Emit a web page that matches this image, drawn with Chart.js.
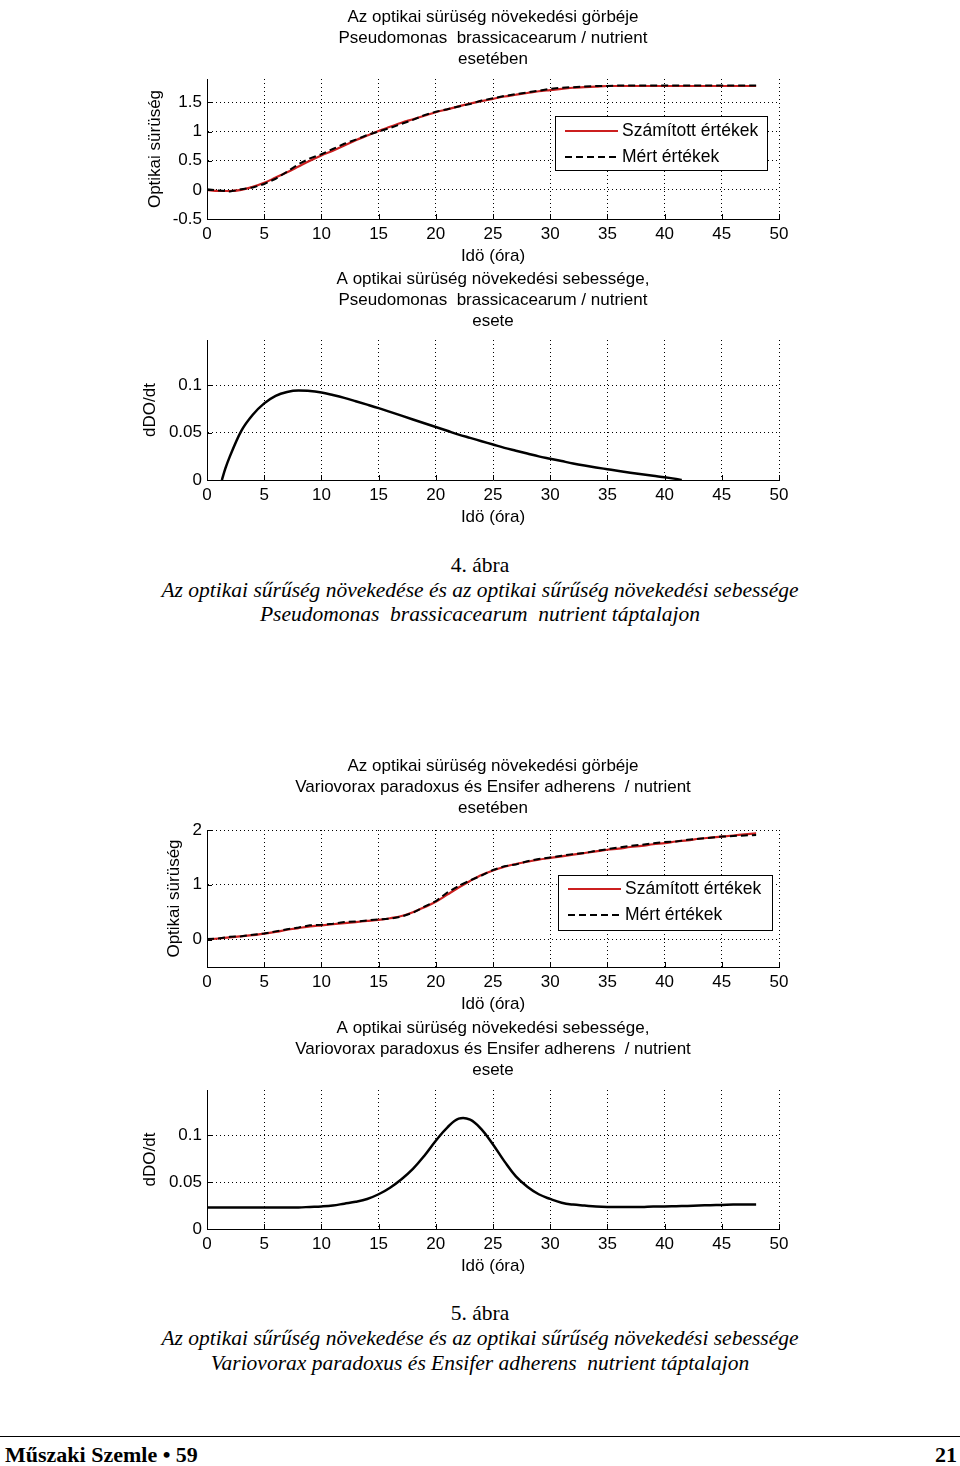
<!DOCTYPE html>
<html>
<head>
<meta charset="utf-8">
<script src="https://cdn.jsdelivr.net/npm/chart.js@4.4.0/dist/chart.umd.min.js"></script>
<style>
  body { margin: 0; background: #fff; width: 960px; height: 1466px; position: relative; overflow: hidden; }
  canvas.plot { position: absolute; left: 120px; }
  .cap { position: absolute; left: 0; width: 960px; text-align: center; font-family: 'Liberation Serif', 'Times New Roman', serif;
         font-size: 21.5px; line-height: 25px; white-space: pre; color: #000; }
  .cap.it { font-style: italic; }
  .rule { position: absolute; left: 0; top: 1436px; width: 960px; border-top: 1.5px solid #000; }
  .foot { position: absolute; top: 1443px; font-family: 'Liberation Serif', 'Times New Roman', serif; font-weight: bold;
          font-size: 22px; line-height: 24px; color: #000; }
</style>
</head>
<body>
<canvas id="od1" class="plot" width="700" height="270" style="top:0px"></canvas>
<canvas id="rate1" class="plot" width="700" height="269" style="top:262px"></canvas>
<canvas id="od2" class="plot" width="700" height="269" style="top:749px"></canvas>
<canvas id="rate2" class="plot" width="700" height="269" style="top:1011px"></canvas>

<div class="cap" style="top:553px">4. ábra</div>
<div class="cap it" style="top:578px">Az optikai sűrűség növekedése és az optikai sűrűség növekedési sebessége</div>
<div class="cap it" style="top:602px">Pseudomonas  brassicacearum  nutrient táptalajon</div>

<div class="cap" style="top:1301px">5. ábra</div>
<div class="cap it" style="top:1326px">Az optikai sűrűség növekedése és az optikai sűrűség növekedési sebessége</div>
<div class="cap it" style="top:1351px">Variovorax paradoxus és Ensifer adherens  nutrient táptalajon</div>

<div class="rule"></div>
<div class="foot" style="left:5px">Műszaki Szemle • 59</div>
<div class="foot" style="right:3px">21</div>

<script>
// ---- data ----
const hours = [0, 1, 2, 3, 4, 5, 6, 7, 8, 9, 10, 11, 12, 13, 14, 15, 16, 17, 18, 19, 20, 21, 22, 23, 24,
               25, 26, 27, 28, 29, 30, 31, 32, 33, 34, 35, 36, 37, 38, 39, 40, 41, 42, 43, 44, 45, 46, 47, 48];

const seriesNames = ["Számított értékek", "Mért értékek"];

// 4. ábra - Pseudomonas brassicacearum
const odCalcPseudo = [0.00, -0.02, -0.02, 0.00, 0.05, 0.12, 0.21, 0.30, 0.40, 0.50, 0.59, 0.67, 0.76, 0.85, 0.93,
                      1.01, 1.08, 1.15, 1.21, 1.27, 1.33, 1.38, 1.43, 1.48, 1.52, 1.56, 1.60, 1.63, 1.66, 1.69,
                      1.71, 1.73, 1.75, 1.76, 1.77, 1.78, 1.78, 1.78, 1.78, 1.78, 1.78, 1.78, 1.78, 1.78, 1.78,
                      1.78, 1.78, 1.78, 1.78];
const odMeasPseudo = [0.01, -0.01, -0.03, 0.01, 0.04, 0.10, 0.19, 0.31, 0.44, 0.54, 0.61, 0.70, 0.79, 0.86, 0.94,
                      1.00, 1.06, 1.13, 1.20, 1.28, 1.34, 1.38, 1.43, 1.47, 1.53, 1.57, 1.61, 1.64, 1.67, 1.70,
                      1.73, 1.75, 1.76, 1.77, 1.78, 1.78, 1.79, 1.79, 1.79, 1.79, 1.79, 1.79, 1.79, 1.79, 1.79,
                      1.79, 1.79, 1.79, 1.79];
const rateHoursPseudo = [1.3, 1.6, 2, 3, 4, 5, 6, 7, 8, 9, 10, 11, 12, 13, 14, 15, 16, 17, 18, 19, 20, 21, 22,
                         23, 24, 25, 26, 27, 28, 29, 30, 31, 32, 33, 34, 35, 36, 37, 38, 39, 40, 41, 41.5];
const ratePseudo = [0, 0.012, 0.025, 0.052, 0.069, 0.081, 0.089, 0.093, 0.0945, 0.0942, 0.0925, 0.0898, 0.0868,
                    0.0833, 0.0797, 0.076, 0.072, 0.068, 0.064, 0.060, 0.056, 0.052, 0.048, 0.0445, 0.041, 0.0375,
                    0.034, 0.031, 0.028, 0.025, 0.0225, 0.020, 0.0175, 0.0153, 0.0133, 0.0114, 0.0095, 0.0077,
                    0.006, 0.0044, 0.003, 0.0012, 0];

// 5. ábra - Variovorax paradoxus és Ensifer adherens
const odCalcVario = [0.00, 0.02, 0.04, 0.06, 0.08, 0.11, 0.14, 0.18, 0.21, 0.24, 0.26, 0.28, 0.30, 0.32, 0.34,
                     0.36, 0.39, 0.43, 0.50, 0.59, 0.69, 0.82, 0.95, 1.07, 1.18, 1.26, 1.33, 1.38, 1.42, 1.46,
                     1.49, 1.52, 1.55, 1.58, 1.61, 1.64, 1.66, 1.69, 1.71, 1.74, 1.76, 1.79, 1.81, 1.84, 1.86,
                     1.88, 1.90, 1.92, 1.94];
const odMeasVario = [0.01, 0.02, 0.05, 0.06, 0.09, 0.11, 0.15, 0.19, 0.22, 0.26, 0.27, 0.29, 0.32, 0.33, 0.35,
                     0.37, 0.38, 0.42, 0.49, 0.60, 0.70, 0.86, 0.98, 1.08, 1.17, 1.27, 1.34, 1.37, 1.43, 1.47,
                     1.50, 1.53, 1.56, 1.58, 1.62, 1.65, 1.68, 1.71, 1.73, 1.76, 1.78, 1.79, 1.82, 1.84, 1.86,
                     1.88, 1.89, 1.90, 1.91];
const rateVario = [0.023, 0.023, 0.023, 0.023, 0.023, 0.023, 0.023, 0.023, 0.023, 0.0235, 0.024, 0.025, 0.027,
                   0.029, 0.032, 0.037, 0.044, 0.053, 0.064, 0.078, 0.094, 0.108, 0.1175, 0.1165, 0.106, 0.090,
                   0.072, 0.056, 0.045, 0.037, 0.032, 0.028, 0.026, 0.025, 0.024, 0.0235, 0.0235, 0.0235,
                   0.0235, 0.024, 0.024, 0.0243, 0.0246, 0.025, 0.0253, 0.0256, 0.026, 0.026, 0.026];

// axis ticks
const hourTicks = [0, 5, 10, 15, 20, 25, 30, 35, 40, 45, 50];
const odTicksPseudo = [-0.5, 0, 0.5, 1, 1.5];
const odTicksVario = [0, 1, 2];
const rateTicks = [0, 0.05, 0.1];

const odTitlePseudo = ["Az optikai sürüség növekedési görbéje", "Pseudomonas  brassicacearum / nutrient", "esetében"];
const rateTitlePseudo = ["A optikai sürüség növekedési sebessége,", "Pseudomonas  brassicacearum / nutrient", "esete"];
const odTitleVario = ["Az optikai sürüség növekedési görbéje", "Variovorax paradoxus és Ensifer adherens  / nutrient", "esetében"];
const rateTitleVario = ["A optikai sürüség növekedési sebessége,", "Variovorax paradoxus és Ensifer adherens  / nutrient", "esete"];

// ---- drawing ----
Chart.defaults.font.family = "'Liberation Sans', Arial, sans-serif";
Chart.defaults.font.size = 17;
Chart.defaults.color = "#000";

const redLine = "#cc1f1f";

// MATLAB style inward tick marks and boxed legend
const matlabAxes = {
    id: "matlabAxes",
    afterDraw(chart, args, opts) {
        const ctx = chart.ctx;
        const a = chart.chartArea;
        const x = chart.scales.x;
        const y = chart.scales.y;
        ctx.save();
        ctx.strokeStyle = "#000";
        ctx.lineWidth = 1;
        ctx.beginPath();
        x.ticks.forEach(t => {
            const px = Math.round(x.getPixelForValue(t.value)) + 0.5;
            ctx.moveTo(px, a.bottom);
            ctx.lineTo(px, a.bottom - 5);
        });
        y.ticks.forEach(t => {
            const py = Math.round(y.getPixelForValue(t.value)) + 0.5;
            ctx.moveTo(a.left, py);
            ctx.lineTo(a.left + 5, py);
        });
        ctx.stroke();

        if (opts.legend) {
            const lg = opts.legend;
            const bx = a.left + lg.dx, by = a.top + lg.dy;
            ctx.fillStyle = "#fff";
            ctx.fillRect(bx, by, lg.w, lg.h);
            ctx.strokeStyle = "#000";
            ctx.strokeRect(bx + 0.5, by + 0.5, lg.w, lg.h);
            ctx.font = "17.5px 'Liberation Sans', Arial, sans-serif";
            ctx.textBaseline = "middle";
            chart.data.datasets.forEach((ds, i) => {
                const ry = by + lg.row0 + i * lg.rowGap;
                ctx.beginPath();
                ctx.strokeStyle = ds.borderColor;
                ctx.lineWidth = ds.borderWidth;
                ctx.setLineDash(ds.borderDash || []);
                ctx.moveTo(bx + 10, ry);
                ctx.lineTo(bx + 63, ry);
                ctx.stroke();
                ctx.setLineDash([]);
                ctx.fillStyle = "#000";
                ctx.fillText(ds.label, bx + 67, ry);
            });
        }
        ctx.restore();
    }
};

function makePlot(id, p) {
    const tickList = p.yTicks;
    new Chart(document.getElementById(id), {
        type: "line",
        data: { datasets: p.datasets },
        options: {
            responsive: false,
            animation: false,
            layout: { padding: { left: p.padLeft, right: 41, top: 0, bottom: 3 } },
            elements: { point: { radius: 0 } },
            plugins: {
                legend: { display: false },
                tooltip: { enabled: false },
                title: {
                    display: true,
                    fullSize: false,
                    text: p.title,
                    font: { size: 17, weight: "normal", lineHeight: 21 / 17 },
                    color: "#000",
                    padding: { top: 6.5, bottom: p.titleGap }
                },
                matlabAxes: { legend: p.legend }
            },
            scales: {
                x: {
                    type: "linear",
                    min: 0, max: 50,
                    afterBuildTicks: s => { s.ticks = hourTicks.map(v => ({ value: v })); },
                    afterFit: s => { s.height = 48; },
                    ticks: { padding: 5, maxRotation: 0, autoSkip: false, callback: v => String(v) },
                    grid: { color: "#000", lineWidth: 1, drawTicks: false },
                    border: { color: "#000", width: 1, dash: [1, 3] },
                    title: { display: true, text: "Idö (óra)", padding: 0 }
                },
                y: {
                    min: p.yMin, max: p.yMax,
                    afterBuildTicks: s => { s.ticks = tickList.map(v => ({ value: v })); },
                    afterFit: s => { s.width = 87 - p.padLeft; },
                    ticks: { padding: 5, callback: v => String(v) },
                    grid: { color: "#000", lineWidth: 1, drawTicks: false },
                    border: { color: "#000", width: 1, dash: [1, 3] },
                    title: { display: true, text: p.yLabel, padding: 0 }
                }
            }
        },
        plugins: [matlabAxes]
    });
}

function pairs(xs, ys) {
    return xs.map((x, i) => ({ x: x, y: ys[i] }));
}

function odSets(calc, meas) {
    return [
        { label: seriesNames[0], data: pairs(hours, calc), borderColor: redLine, borderWidth: 2.2,
          cubicInterpolationMode: "monotone", order: 1 },
        { label: seriesNames[1], data: pairs(hours, meas), borderColor: "#000", borderWidth: 2,
          borderDash: [7, 4], tension: 0, order: 0 }
    ];
}

function rateSet(xs, ys, smoothPeak) {
    const ds = { label: "dDO/dt", data: pairs(xs, ys), borderColor: "#000", borderWidth: 2.5 };
    if (smoothPeak) {
        ds.tension = 0.4;
    } else {
        ds.cubicInterpolationMode = "monotone";
    }
    return [ds];
}

makePlot("od1", {
    title: odTitlePseudo, titleGap: 9.5, padLeft: 24.8,
    yLabel: "Optikai sürüség", yMin: -0.5, yMax: 1.9, yTicks: odTicksPseudo,
    datasets: odSets(odCalcPseudo, odMeasPseudo),
    legend: { dx: 348, dy: 37, w: 212, h: 54, row0: 15, rowGap: 26 }
});

makePlot("rate1", {
    title: rateTitlePseudo, titleGap: 8.5, padLeft: 19.8,
    yLabel: "dDO/dt", yMin: 0, yMax: 0.148, yTicks: rateTicks,
    datasets: rateSet(rateHoursPseudo, ratePseudo, false)
});

makePlot("od2", {
    title: odTitleVario, titleGap: 11.5, padLeft: 43.8,
    yLabel: "Optikai sürüség", yMin: -0.5, yMax: 2, yTicks: odTicksVario,
    datasets: odSets(odCalcVario, odMeasVario),
    legend: { dx: 351, dy: 45, w: 214, h: 55, row0: 14, rowGap: 26 }
});

makePlot("rate2", {
    title: rateTitleVario, titleGap: 9.5, padLeft: 19.8,
    yLabel: "dDO/dt", yMin: 0, yMax: 0.148, yTicks: rateTicks,
    datasets: rateSet(hours, rateVario, true)
});
</script>
</body>
</html>
